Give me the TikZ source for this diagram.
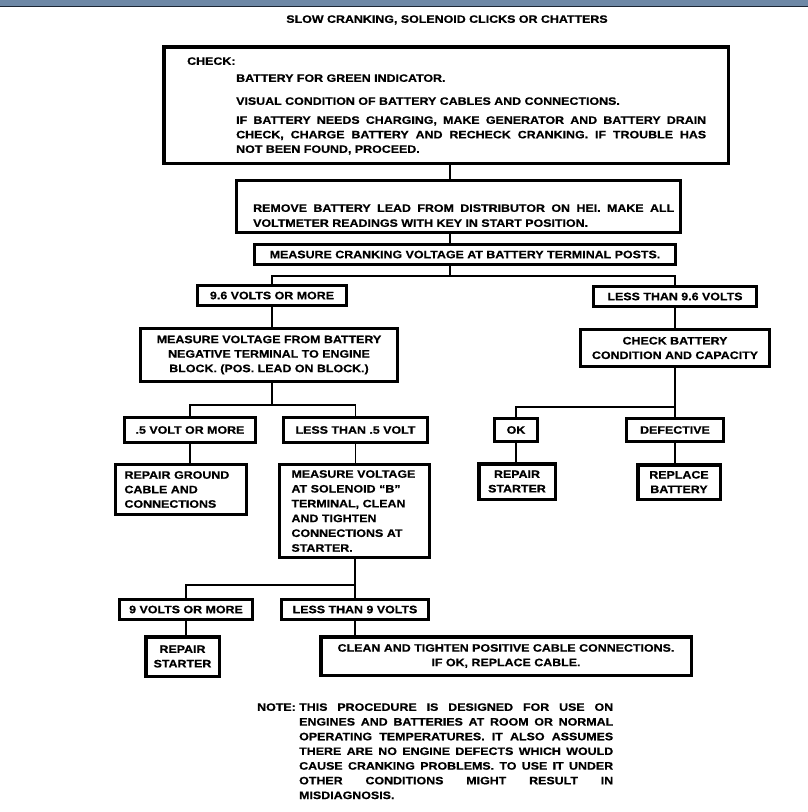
\documentclass[tikz,border=0pt]{standalone}
\usepackage{fontspec}
\newfontfamily\ff{Liberation Sans Bold}[FakeStretch=1.15, FakeBold=0.6]
\definecolor{barblue}{RGB}{110,136,166}
\definecolor{bardark}{RGB}{28,38,52}
\begin{document}
\begin{tikzpicture}[x=1pt,y=-1pt,
  box/.style={draw=black, line width=3pt, inner sep=0pt, align=center, fill=white,
    font=\ff\fontsize{10.8}{14.5}\selectfont},
  heavy/.style={line width=3.5pt},
  conn/.style={line width=1.8pt, draw=black},
  txt/.style={inner sep=0pt, anchor=west, text height=7.7pt, text depth=0pt,
    font=\ff\fontsize{10.8}{14.5}\selectfont}]
\useasboundingbox (0,0) rectangle (808,812);
\fill[white] (0,0) rectangle (808,812);
\fill[barblue] (0,0) rectangle (808,6);
\draw[bardark, line width=1.5pt] (0,6.5) -- (808,6.5);

% title
\node[txt, anchor=center] (title) at (447,19) {SLOW CRANKING, SOLENOID CLICKS OR CHATTERS};

% box 1
\node[box, heavy, minimum width=564.5pt, minimum height=116.5pt] (b1) at (446,105) {};
\node[txt] (c0) at (187,61) {CHECK:};
\node[txt] (c1) at (236,78) {BATTERY FOR GREEN INDICATOR.};
\node[txt] (c2) at (236,101) {VISUAL CONDITION OF BATTERY CABLES AND CONNECTIONS.};
\node[txt] (c3) at (236,120) {\makebox[470pt][s]{IF BATTERY NEEDS CHARGING, MAKE GENERATOR AND BATTERY DRAIN}};
\node[txt] (c4) at (236,134.5) {\makebox[470pt][s]{CHECK, CHARGE BATTERY AND RECHECK CRANKING. IF TROUBLE HAS}};
\node[txt] (c5) at (236,149) {NOT BEEN FOUND, PROCEED.};

% box 2
\node[box, minimum width=444pt, minimum height=52pt] (b2) at (458.5,206.5) {};
\node[txt] (r1) at (253,208) {\makebox[421pt][s]{REMOVE BATTERY LEAD FROM DISTRIBUTOR ON HEI. MAKE ALL}};
\node[txt] (r2) at (253,223) {VOLTMETER READINGS WITH KEY IN START POSITION.};

% box 3
\node[box, minimum width=421pt, minimum height=20pt] (b3) at (465,254.5) {MEASURE CRANKING VOLTAGE AT BATTERY TERMINAL POSTS.};

% level 2
\node[box, minimum width=149pt, minimum height=20pt] (v96) at (272,295.5) {9.6 VOLTS OR MORE};
\node[box, minimum width=163pt, minimum height=20pt] (lt96) at (675,296.5) {LESS THAN 9.6 VOLTS};

\node[box, minimum width=257pt, minimum height=53pt] (mf) at (269,355) {MEASURE VOLTAGE FROM BATTERY\\NEGATIVE TERMINAL TO ENGINE\\BLOCK. (POS. LEAD ON BLOCK.)};
\node[box, minimum width=189pt, minimum height=37pt] (cb) at (675,348) {CHECK BATTERY\\CONDITION AND CAPACITY};

% level 3
\node[box, minimum width=131pt, minimum height=25pt] (h5m) at (190,430) {.5 VOLT OR MORE};
\node[box, minimum width=144pt, minimum height=25pt] (lt5) at (355.5,430) {LESS THAN .5 VOLT};
\node[box, minimum width=43pt, minimum height=23pt] (ok) at (516,430) {OK};
\node[box, minimum width=97pt, minimum height=23pt] (def) at (675,430) {DEFECTIVE};

\node[box, heavy, minimum width=76.5pt, minimum height=35.5pt] (rs1) at (517,481.5) {REPAIR\\STARTER};
\node[box, heavy, minimum width=82.5pt, minimum height=34.5pt] (rb) at (679,482) {REPLACE\\BATTERY};

\node[box, minimum width=131pt, minimum height=50pt, text width=113pt, align=left] (gnd) at (181,489.5)
  {\makebox[113pt][s]{REPAIR GROUND}\\\makebox[78pt][s]{CABLE AND}\\CONNECTIONS};
\node[box, minimum width=150pt, minimum height=93pt, text width=126pt, align=left,
  font=\ff\fontsize{10.8}{14.8}\selectfont] (sol) at (354.5,511)
  {MEASURE VOLTAGE\\AT SOLENOID “B”\\TERMINAL, CLEAN\\AND TIGHTEN\\CONNECTIONS AT\\STARTER.};

% level 4
\node[box, minimum width=133pt, minimum height=20pt] (v9) at (186,609.5) {9 VOLTS OR MORE};
\node[box, minimum width=147pt, minimum height=20pt] (lt9) at (355,609.5) {LESS THAN 9 VOLTS};
\node[box, heavy, minimum width=73.5pt, minimum height=39.5pt] (rs2) at (182.5,656.5) {REPAIR\\STARTER};
\node[box, heavy, minimum width=370.5pt, minimum height=38.5pt] (cl) at (506,656)
  {CLEAN AND TIGHTEN POSITIVE CABLE CONNECTIONS.\\IF OK, REPLACE CABLE.};

% note
\node[txt] (n0) at (257,707) {NOTE:};
\node[txt] (n1) at (299,707) {\makebox[314pt][s]{THIS PROCEDURE IS DESIGNED FOR USE ON}};
\node[txt] (n2) at (299,721.7) {\makebox[314pt][s]{ENGINES AND BATTERIES AT ROOM OR NORMAL}};
\node[txt] (n3) at (299,736.4) {\makebox[314pt][s]{OPERATING TEMPERATURES. IT ALSO ASSUMES}};
\node[txt] (n4) at (299,751.1) {\makebox[314pt][s]{THERE ARE NO ENGINE DEFECTS WHICH WOULD}};
\node[txt] (n5) at (299,765.8) {\makebox[314pt][s]{CAUSE CRANKING PROBLEMS. TO USE IT UNDER}};
\node[txt] (n6) at (299,780.5) {\makebox[314pt][s]{OTHER CONDITIONS MIGHT RESULT IN}};
\node[txt] (n7) at (299,795.2) {MISDIAGNOSIS.};

% junctions
\coordinate (j1) at (450,276);
\coordinate (j2) at (272,405);
\coordinate (j3) at (675,407);
\coordinate (j4) at (355,585);

% connectors
\draw[conn] (b1.south -| j1) -- (b2.north -| j1);
\draw[conn] (b2.south -| j1) -- (b3.north -| j1);
\draw[conn] (b3.south -| j1) -- (j1);
\draw[conn] (v96.north) |- (j1) -| (lt96.north);
\draw[conn] (v96.south) -- (v96.south |- mf.north);
\draw[conn] (mf.south -| j2) -- (j2);
\draw[conn] (h5m.north) |- (j2) -| (lt5.north);
\draw[conn] (h5m.south) -- (h5m.south |- gnd.north);
\draw[conn] (lt5.south) -- (lt5.south |- sol.north);
\draw[conn] (sol.south -| j4) -- (lt9.north -| j4);
\draw[conn] (v9.north) |- (j4);
\draw[conn] (v9.south) -- (v9.south |- rs2.north);
\draw[conn] (lt9.south) -- (lt9.south |- cl.north);
\draw[conn] (lt96.south) -- (lt96.south |- cb.north);
\draw[conn] (cb.south -| j3) -- (def.north -| j3);
\draw[conn] (ok.north) |- (j3);
\draw[conn] (ok.south) -- (ok.south |- rs1.north);
\draw[conn] (def.south) -- (def.south |- rb.north);
\end{tikzpicture}
\end{document}
